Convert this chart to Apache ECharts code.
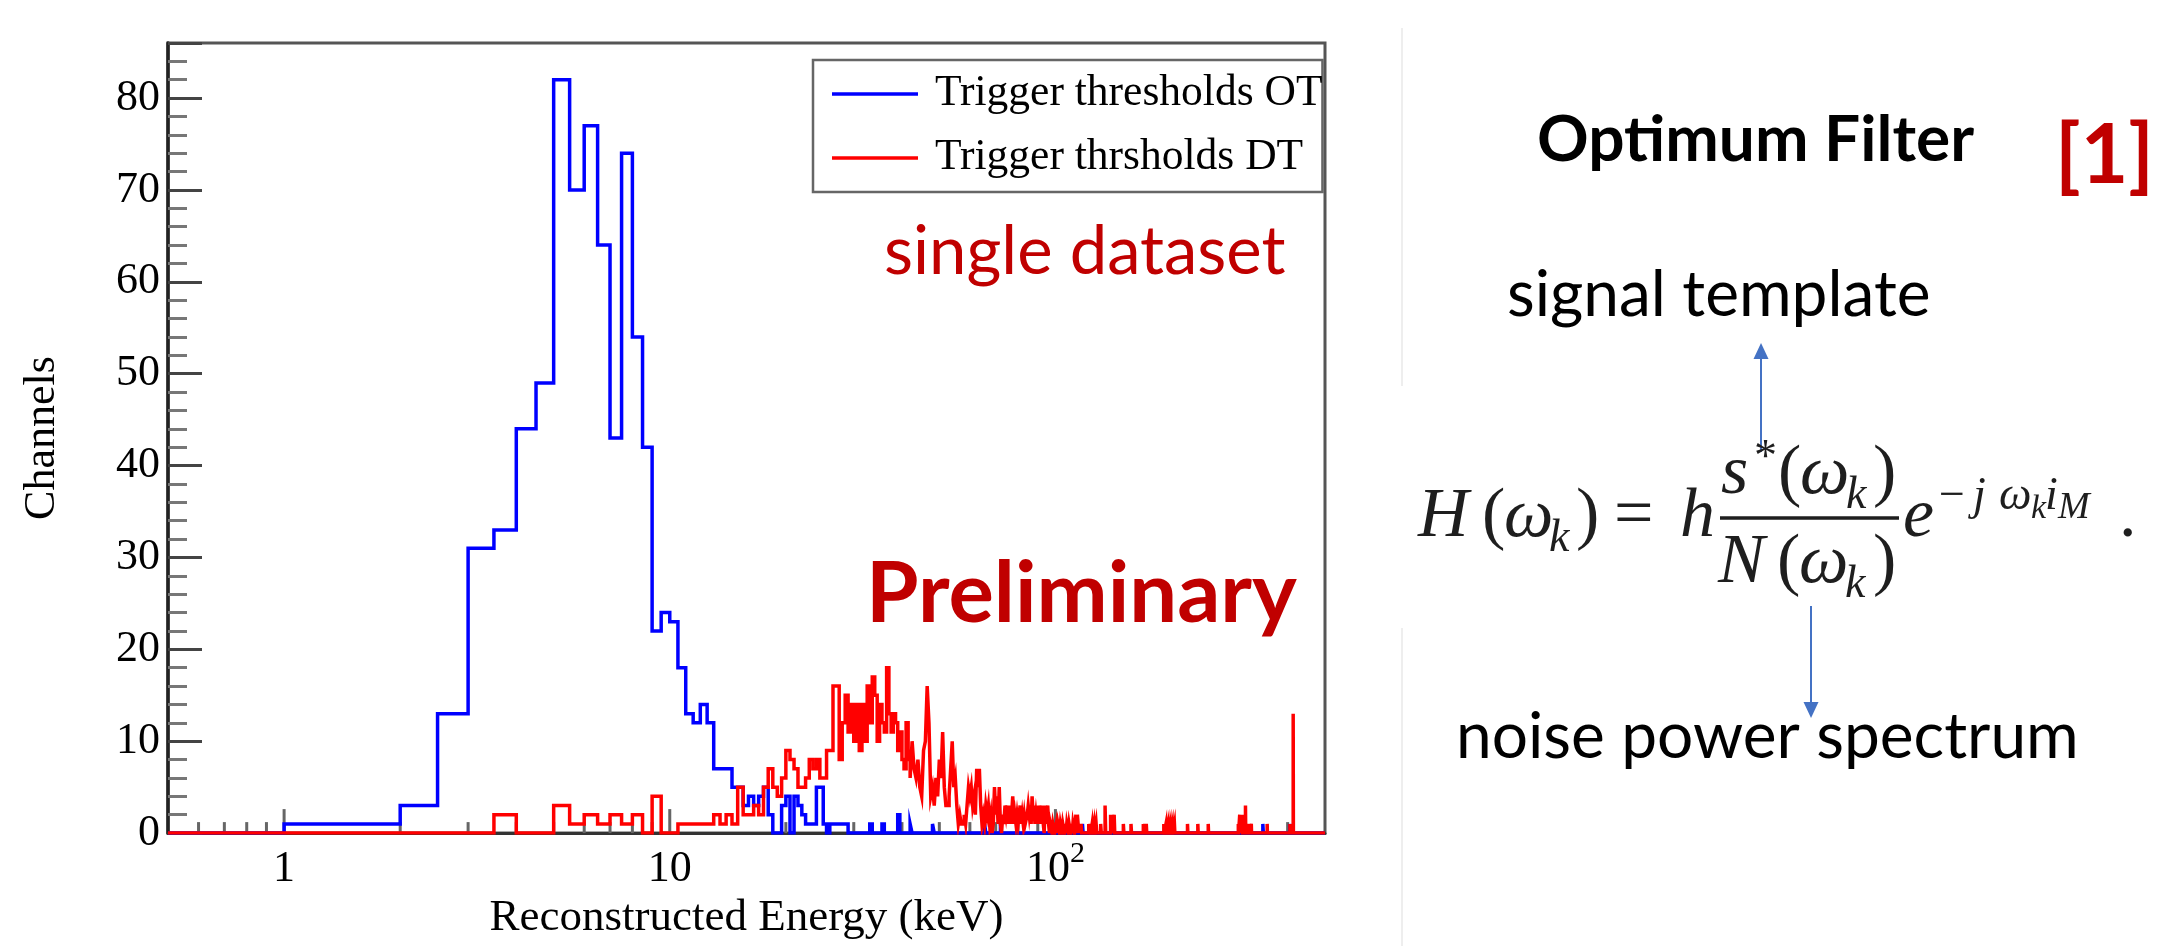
<!DOCTYPE html>
<html><head><meta charset="utf-8">
<script src="https://cdn.jsdelivr.net/npm/echarts@6/dist/echarts.min.js"></script>
<style>html,body{margin:0;padding:0;background:#fff}#c{width:2163px;height:946px}</style>
</head><body><div id="c"></div>
<script>
// ---- data ----
const BIN_WIDTH = 0.5;              // keV per histogram bin
const X_MIN = 0.5, X_MAX = 500;     // keV axis range
const Y_MAX = 86;
const seriesNames = ['Trigger thresholds OT', 'Trigger thrsholds DT'];
const xTickValues = [1, 10, 100];
const xTickLabels = ['1', '10', '10^2'];
const majorTicksX = [1, 10, 100];
const minorTicksX = [0.6,0.7,0.8,0.9,2,3,4,5,6,7,8,9,20,30,40,50,60,70,80,90,200,300,400];

// OT (blue): contiguous bins starting at otStart, then isolated bins [lowEdge, count]
const otStart = 1.0;
const otCounts = [1,1,3,13,31,33,44,49,82,70,
                  77,64,43,74,54,42,22,24,23,18,
                  13,12,14,12,7,7,7,5,5,3,
                  4,3,4,5,2,0,0,3,4,0,
                  4,3,2,1,1,1,5,5,1,0,
                  1,1,1,1,1,1];
const otSparse = [[33,1],[35.5,1],[39,2],[42,1],[48,1],[65.5,1],[72,1],[117.5,1],[345,1],[345.5,1],[405,1]];

// DT (red)
const dtStart = 3.5;
const dtCounts = [2,0,0,3,1,2,1,2,1,2,0,4,0,0,1,1,1,
                  1,1,2,1,2,1,5,2,2,3,2,5,7,5,4,6,
                  9,8,7,5,5,6,8,7,8,6,6,9,9,16,16,8,12,15,11,14,
                  10,14,9,14,10,16,12,17,15,10,14,12,11,18,13,11,13,12,9,11,
                  8,7,12,8,6,10,7,6,8,5,4,9,10,16,12,4,5,3,6,4,
                  8,6,11,5,3,3,4,7,10,5,6,3,1,2,1,1,2,1,3,5,
                  4,5,3,4,2,7,5,7,3,1,2,1,3,2,3,1,2,0,1,5,
                  2,4,1,5,1,0,2,1,3,2,3,1,3,1,2,4,1,2,1,2,
                  1,2,3,1,2,1,2,1,1,2,3,2,3,1,4,2,3,1,2,1,
                  3,1,3,2,1,3,1,0,3,1,2,3,1,0,1,1,0,1,1,0];
const dtSparse = [[100.5,1],[101.5,1],[102,1],[103,1],[103.5,1],[104.5,1],[105,1],[106,1],[107,1],[107.5,1],
                  [108.5,1],[109,1],[110,1],[111,1],[111.5,1],[112.5,1],[113,2],[114,2],[114.5,1],[115.5,1],
                  [116.5,1],[122,1],[123,1],[124.5,1],[126,1],[127.5,1],[131,1],[134.5,3],[139,2],[140.5,1],
                  [142,2],[150,1],[157,1],[169,1],[170.5,1],[172,1],[191,1],[193.5,1],[196,1],[198.5,1],
                  [201,1],[203.5,1],[220,1],[234,1],[249,1],[298,1],[300.5,2],[303,1],[305,2],[311,3],
                  [314,1],[318.5,1],[322,1],[354,1],[405.5,1],[413.5,13]];

// ---- build step outlines from bins ----
function stepPoints(start, counts, sparse) {
  const bins = counts.map((c, i) => [start + i * BIN_WIDTH, c]).concat(sparse);
  bins.sort((a, b) => a[0] - b[0]);
  const pts = [[X_MIN, 0]];
  let lastHi = null;
  for (const [lo, c] of bins) {
    if (lastHi !== null && Math.abs(lastHi - lo) > 1e-9) pts.push([lastHi, 0]);
    pts.push([lo, c]);
    lastHi = lo + BIN_WIDTH;
  }
  pts.push([lastHi, 0]);
  pts.push([X_MAX, 0]);
  return pts;
}

const tickData = majorTicksX.map(v => [v, 1]).concat(minorTicksX.map(v => [v, 0]));

const SERIF = 'Liberation Serif';
const SANS = 'Lato';
function txt(x, baseline, text, size, o) {
  o = o || {};
  const fam = o.family || SERIF;
  const k = fam === SANS ? 0.387 : 0.3375;
  return { type: 'text', x: x, y: baseline - k * size, silent: true, z: 10,
    style: { text: text, fontFamily: fam, fontSize: size, fontWeight: o.bold ? 'bold' : 'normal',
      fontStyle: o.italic ? 'italic' : 'normal', fill: o.color || '#000', align: 'left', verticalAlign: 'middle' } };
}
const RED_TXT = '#c00000';
const F = '#1e1e1e';
const arrowBlue = '#4472c4';
const FM = 70, FS = 46, FSS = 34;   // formula font sizes

const graphics = [
  // faint slide divider
  { type: 'line', shape: { x1: 1402, y1: 28, x2: 1402, y2: 386 }, style: { stroke: '#eeeeee', lineWidth: 2 }, silent: true },
  { type: 'line', shape: { x1: 1402, y1: 628, x2: 1402, y2: 946 }, style: { stroke: '#eeeeee', lineWidth: 2 }, silent: true },
  txt(884, 278, 'single dataset', 67, { family: SANS, color: RED_TXT }),
  txt(866, 627, 'Preliminary', 85, { family: SANS, color: RED_TXT, bold: true }),
  txt(1537, 165, 'Optimum Filter', 64, { family: SANS, bold: true }),
  txt(2055, 188, '[1]', 82, { family: SANS, bold: true, color: RED_TXT }),
  txt(1507, 320, 'signal template', 64, { family: SANS }),
  txt(1456, 762, 'noise power spectrum', 64, { family: SANS }),
  // arrows
  { type: 'line', shape: { x1: 1761, y1: 452, x2: 1761, y2: 356 }, style: { stroke: arrowBlue, lineWidth: 2 }, silent: true },
  { type: 'polygon', shape: { points: [[1761, 343], [1753.5, 359], [1768.5, 359]] }, style: { fill: arrowBlue }, silent: true },
  { type: 'line', shape: { x1: 1811, y1: 606, x2: 1811, y2: 705 }, style: { stroke: arrowBlue, lineWidth: 2 }, silent: true },
  { type: 'polygon', shape: { points: [[1811, 718], [1803.5, 702], [1818.5, 702]] }, style: { fill: arrowBlue }, silent: true },
  // formula H(w_k) = h s*(w_k)/N(w_k) e^{-j w_k i_M} .
  txt(1418, 541, 'H', FM, { italic: true, color: F }),
  txt(1482, 541, '(', FM, { color: F }),
  txt(1504, 541, 'ω', FM, { italic: true, color: F }),
  txt(1549, 554, 'k', FS, { italic: true, color: F }),
  txt(1576, 541, ')', FM, { color: F }),
  txt(1614, 541, '=', FM, { color: F }),
  txt(1680, 541, 'h', FM, { italic: true, color: F }),
  { type: 'line', shape: { x1: 1720, y1: 518, x2: 1899, y2: 518 }, style: { stroke: F, lineWidth: 3.5 }, silent: true },
  txt(1721, 498, 's', FM, { italic: true, color: F }),
  txt(1754, 474, '*', FS, { color: F }),
  txt(1778, 498, '(', FM, { color: F }),
  txt(1800, 498, 'ω', FM, { italic: true, color: F }),
  txt(1846, 511, 'k', FS, { italic: true, color: F }),
  txt(1873, 498, ')', FM, { color: F }),
  txt(1718, 587, 'N', FM, { italic: true, color: F }),
  txt(1777, 587, '(', FM, { color: F }),
  txt(1799, 587, 'ω', FM, { italic: true, color: F }),
  txt(1845, 600, 'k', FS, { italic: true, color: F }),
  txt(1873, 587, ')', FM, { color: F }),
  txt(1903, 541, 'e', FM, { italic: true, color: F }),
  txt(1939, 512, '−', FS, { color: F }),
  txt(1973, 512, 'j', FS, { italic: true, color: F }),
  txt(1999, 512, 'ω', FS, { italic: true, color: F }),
  txt(2031, 521, 'k', FSS, { italic: true, color: F }),
  txt(2045, 512, 'i', FS, { italic: true, color: F }),
  txt(2058, 521, 'M', 38, { italic: true, color: F }),
  txt(2119, 541, '.', FM, { color: F })
];

function xLabel(v) {
  for (let i = 0; i < xTickValues.length; i++) {
    if (Math.abs(v - xTickValues[i]) < 1e-6 * xTickValues[i]) {
      const parts = xTickLabels[i].split('^');
      return parts.length > 1 ? '{b|' + parts[0] + '}{s|' + parts[1] + '}' : '{b|' + parts[0] + '}';
    }
  }
  return '';
}

const chart = echarts.init(document.getElementById('c'), null, { renderer: 'canvas' });
chart.setOption({
  animation: false,
  backgroundColor: '#fff',
  grid: { left: 168, top: 43, width: 1157, height: 795, show: true, borderColor: '#555', borderWidth: 3, backgroundColor: 'transparent' },
  legend: {
    data: seriesNames, orient: 'vertical', left: 813, top: 60, padding: [11, 0, 11, 19], itemGap: 18,
    itemWidth: 86, itemHeight: 3.5, icon: 'rect', backgroundColor: '#fff', borderColor: '#666', borderWidth: 2.5,
    selectedMode: false,
    textStyle: { fontFamily: SERIF, fontSize: 43.5, color: '#000', lineHeight: 46, padding: [0, 0, 0, 12] }
  },
  xAxis: {
    type: 'log', logBase: 10, min: X_MIN, max: X_MAX,
    axisLine: { show: true, lineStyle: { color: '#333', width: 3 } },
    axisTick: { show: false }, minorTick: { show: false }, splitLine: { show: false },
    axisLabel: { margin: 6, formatter: xLabel,
      rich: { b: { fontFamily: SERIF, fontSize: 44, color: '#000', padding: [8, 0, 0, 0], verticalAlign: 'bottom' },
              s: { fontFamily: SERIF, fontSize: 30, color: '#000', verticalAlign: 'top' } } },
    name: 'Reconstructed Energy (keV)', nameLocation: 'middle', nameGap: 53,
    nameTextStyle: { fontFamily: SERIF, fontSize: 45, color: '#000' }
  },
  yAxis: {
    type: 'value', min: 0, max: Y_MAX, interval: 10,
    axisLine: { show: true, lineStyle: { color: '#222', width: 3.5 } },
    axisTick: { show: true, inside: true, length: 34, lineStyle: { color: '#444', width: 3 } },
    minorTick: { show: true, splitNumber: 5, length: 19, lineStyle: { color: '#777', width: 3 } },
    splitLine: { show: false },
    axisLabel: { margin: 8, fontFamily: SERIF, fontSize: 44, color: '#000',
      formatter: v => (v % 10 === 0 ? String(v) : '') },
    name: 'Channels', nameLocation: 'middle', nameGap: 104,
    nameTextStyle: { fontFamily: SERIF, fontSize: 44, color: '#000' }
  },
  series: [
    { type: 'custom', name: 'ticks', z: 1, silent: true, data: tickData, encode: { x: 0, y: 1 },
      renderItem: function (params, api) {
        const p = api.coord([api.value(0), 0]);
        const len = api.value(1) ? 24 : 11;
        return { type: 'line', shape: { x1: p[0], y1: p[1], x2: p[0], y2: p[1] - len },
                 style: { stroke: '#666', lineWidth: 3 } };
      } },
    { name: seriesNames[0], type: 'line', step: 'end', data: stepPoints(otStart, otCounts, otSparse),
      symbol: 'none', showSymbol: false, z: 3, silent: true,
      lineStyle: { color: '#0000ff', width: 3.5, join: 'miter' }, itemStyle: { color: '#0000ff' } },
    { name: seriesNames[1], type: 'line', step: 'end', data: stepPoints(dtStart, dtCounts, dtSparse),
      symbol: 'none', showSymbol: false, z: 4, silent: true,
      lineStyle: { color: '#ff0000', width: 3.5, join: 'miter' }, itemStyle: { color: '#ff0000' } }
  ],
  graphic: { elements: graphics }
});
</script>
</body></html>
